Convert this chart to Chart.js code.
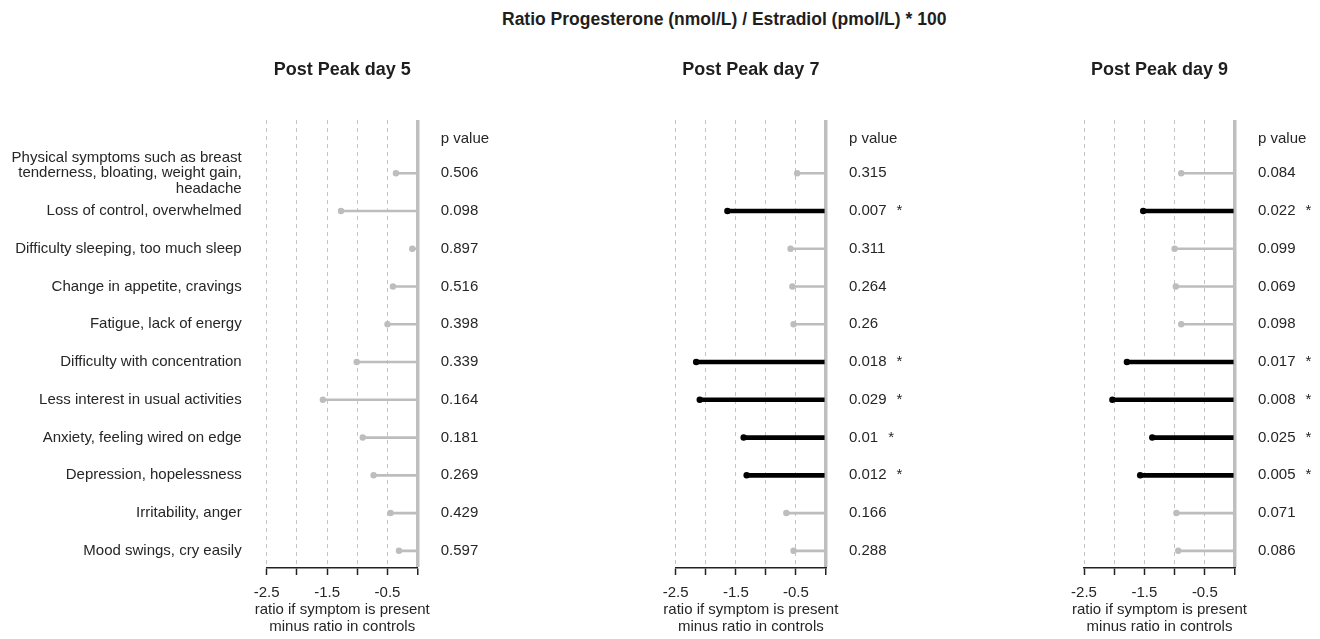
<!DOCTYPE html>
<html>
<head>
<meta charset="utf-8">
<script src="https://cdn.jsdelivr.net/npm/chart.js@4"></script>
<style>
    body { margin: 0; background: #fff; width: 1320px; height: 639px; overflow: hidden; position: relative; font-family: "Liberation Sans", Arial, sans-serif; }
    .panel { position: absolute; top: 0; height: 639px; }
    #mainTitle { position: absolute; top: 9px; left: 502px; white-space: nowrap; font-weight: bold; font-size: 17.5px; line-height: 20px; color: #1e1e1e; }
</style>
</head>
<body>
<div id="mainTitle">Ratio Progesterone (nmol/L) / Estradiol (pmol/L) * 100</div>
<div class="panel" style="left:0;width:520px"><canvas id="day5"></canvas></div>
<div class="panel" style="left:560px;width:380px"><canvas id="day7"></canvas></div>
<div class="panel" style="left:970px;width:350px"><canvas id="day9"></canvas></div>
<script>
/* ===============================
   DATA
================================ */
const symptoms = [
    ["Physical symptoms such as breast", "tenderness, bloating, weight gain,", "headache"],
    "Loss of control, overwhelmed",
    "Difficulty sleeping, too much sleep",
    "Change in appetite, cravings",
    "Fatigue, lack of energy",
    "Difficulty with concentration",
    "Less interest in usual activities",
    "Anxiety, feeling wired on edge",
    "Depression, hopelessness",
    "Irritability, anger",
    "Mood swings, cry easily"
];

const day5Diff = [-0.36, -1.27, -0.09, -0.41, -0.50, -1.01, -1.57, -0.91, -0.73, -0.45, -0.31];
const day5P = ["0.506", "0.098", "0.897", "0.516", "0.398", "0.339", "0.164", "0.181", "0.269", "0.429", "0.597"];

const day7Diff = [-0.48, -1.64, -0.59, -0.56, -0.54, -2.16, -2.10, -1.37, -1.32, -0.66, -0.54];
const day7P = ["0.315", "0.007", "0.311", "0.264", "0.26", "0.018", "0.029", "0.01", "0.012", "0.166", "0.288"];

const day9Diff = [-0.89, -1.52, -1.00, -0.98, -0.89, -1.79, -2.03, -1.37, -1.57, -0.97, -0.94];
const day9P = ["0.084", "0.022", "0.099", "0.069", "0.098", "0.017", "0.008", "0.025", "0.005", "0.071", "0.086"];

const xTickLabels = ["-2.5", "-1.5", "-0.5"];
const xAxisTitle = ["ratio if symptom is present", "minus ratio in controls"];

/* ===============================
   STYLE
================================ */
const FONT = '"Liberation Sans", Arial, sans-serif';
const TEXT = "#262626";
const GREY = "#bdbdbd";
Chart.defaults.font.family = FONT;
Chart.defaults.color = TEXT;

/* ===============================
   PANEL TEXT (title, p values, axis title)
================================ */
function panelTextPlugin(title, pvals) {
    return {
        id: "panelText",
        afterDraw(chart) {
            const { ctx, chartArea } = chart;
            const yScale = chart.scales.y;
            const tx = chartArea.right + 23;
            const cx = (chartArea.left + chartArea.right) / 2;

            ctx.save();
            ctx.textBaseline = "middle";

            // panel title
            ctx.font = "bold 18px " + FONT;
            ctx.textAlign = "center";
            ctx.fillStyle = "#1e1e1e";
            ctx.fillText(title, cx, 70);

            // x axis title (drawn here so it is not squeezed to the axis width)
            ctx.fillStyle = TEXT;
            ctx.font = "15px " + FONT;
            xAxisTitle.forEach((line, k) => {
                ctx.fillText(line, cx, chartArea.bottom + 42 + k * 17);
            });

            // p value column
            ctx.textAlign = "left";
            ctx.fillText("p value", tx, chartArea.top + 19);

            pvals.forEach((p, i) => {
                const y = yScale.getPixelForValue(i);
                ctx.fillText(p, tx, y);
                if (parseFloat(p) < 0.05) {
                    ctx.fillText("*", tx + ctx.measureText(p).width + 10, y);
                }
            });
            ctx.restore();
        }
    };
}

/* ===============================
   ONE PANEL
================================ */
function makePanel(id, title, diffs, pvals, canvasLeft, canvasWidth, axisLeft, axisRight, showLabels) {
    const sig = pvals.map(p => parseFloat(p) < 0.05);
    const rows = diffs.map((v, i) => ({ x: v, y: i }));

    new Chart(document.getElementById(id), {
        type: "bar",
        data: {
            datasets: [{
                    type: "line",
                    data: rows,
                    showLine: false,
                    pointRadius: 3.2,
                    pointHoverRadius: 3.2,
                    pointBorderWidth: 0,
                    pointBackgroundColor: sig.map(s => s ? "#000" : GREY),
                    clip: false,
                    order: 0
                },
                {
                    data: rows.filter((r, i) => !sig[i]),
                    backgroundColor: GREY,
                    barThickness: 2,
                    grouped: false,
                    order: 1
                },
                {
                    data: rows.filter((r, i) => sig[i]),
                    backgroundColor: "#000",
                    barThickness: 4,
                    grouped: false,
                    order: 1
                }
            ]
        },
        options: {
            indexAxis: "y",
            responsive: true,
            maintainAspectRatio: false,
            animation: false,
            events: [],
            layout: {
                padding: {
                    top: 120,
                    bottom: 0,
                    left: showLabels ? 0 : axisLeft - canvasLeft,
                    right: canvasLeft + canvasWidth - axisRight
                }
            },
            plugins: {
                legend: { display: false },
                tooltip: { enabled: false }
            },
            scales: {
                x: {
                    type: "linear",
                    min: -2.5,
                    max: 0,
                    afterFit: s => { s.height = 71; },
                    ticks: {
                        stepSize: 0.5,
                        autoSkip: false,
                        maxRotation: 0,
                        padding: 9,
                        color: TEXT,
                        font: { size: 15 },
                        callback: v => {
                            const t = Number(v).toFixed(1);
                            return xTickLabels.includes(t) ? t : "";
                        }
                    },
                    grid: {
                        color: c => (c.tick && c.tick.value === 0) ? "#bfbfbf" : "#c4c4c4",
                        lineWidth: c => (c.tick && c.tick.value === 0) ? 3.5 : 1,
                        tickColor: "#222",
                        tickWidth: 1.5,
                        tickLength: 7
                    },
                    border: {
                        display: true,
                        color: "#222",
                        width: 1.5,
                        dash: c => (c.tick && c.tick.value !== 0) ? [4, 4] : []
                    },
                    title: { display: false }
                },
                y: {
                    type: "linear",
                    display: showLabels,
                    reverse: true,
                    offset: false,
                    min: -1.41,
                    max: 10.455,
                    afterBuildTicks: s => { s.ticks = symptoms.map((lab, i) => ({ value: i })); },
                    afterFit: s => { s.width = showLabels ? axisLeft - canvasLeft : 0; },
                    ticks: {
                        autoSkip: false,
                        padding: 25,
                        color: TEXT,
                        font: { size: 15, lineHeight: 1.05 },
                        callback: v => symptoms[v]
                    },
                    grid: { display: false, drawTicks: false, offset: false },
                    border: { display: false }
                }
            }
        },
        plugins: [panelTextPlugin(title, pvals)]
    });
}

/* ===============================
   INIT
================================ */
makePanel("day5", "Post Peak day 5", day5Diff, day5P, 0, 520, 266.7, 417.7, true);
makePanel("day7", "Post Peak day 7", day7Diff, day7P, 560, 380, 675.7, 826, false);
makePanel("day9", "Post Peak day 9", day9Diff, day9P, 970, 350, 1084, 1235, false);
</script>
</body>
</html>
